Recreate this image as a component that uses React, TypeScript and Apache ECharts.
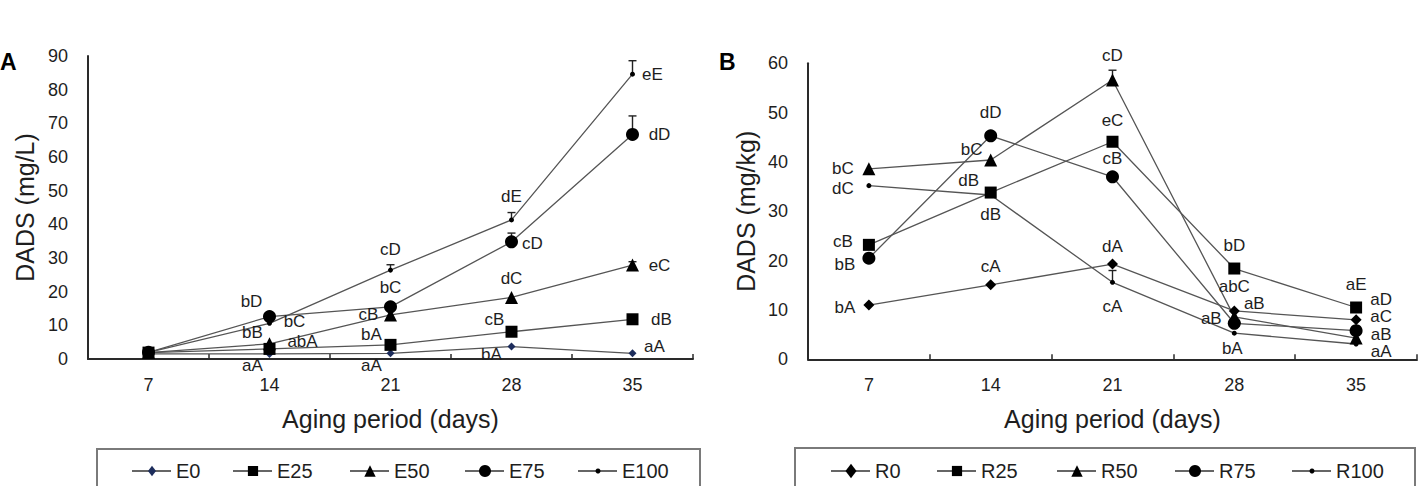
import React, { useEffect, useRef } from 'react';
import * as echarts from 'echarts';

// Aging period (days)
const days = ['7', '14', '21', '28', '35'];

// Panel A — DADS (mg/L)
const namesA = ['E0', 'E25', 'E50', 'E75', 'E100'];
const e0 = [1.5, 1.5, 1.7, 3.7, 1.7];
const e25 = [1.9, 3.0, 4.2, 8.1, 11.8];
const e50 = [1.9, 4.5, 13.1, 18.3, 27.9];
const e75 = [2.0, 12.6, 15.5, 34.8, 66.7];
const e100 = [2.0, 10.6, 26.4, 41.3, 84.6];
const e0Err = [0, 0, 0, 0, 0];
const e25Err = [0, 0, 0, 0, 0];
const e50Err = [0, 0, 0, 0, 1.0];
const e75Err = [0, 0, 0, 2.6, 5.5];
const e100Err = [0, 0, 1.6, 2.2, 4.0];
const e0Letters = ['', 'aA', 'aA', 'bA', 'aA'];
const e25Letters = ['', 'abA', 'bA', 'cB', 'dB'];
const e50Letters = ['', 'bB', 'cB', 'dC', 'eC'];
const e75Letters = ['', 'bD', 'bC', 'cD', 'dD'];
const e100Letters = ['', 'bC', 'cD', 'dE', 'eE'];

// Panel B — DADS (mg/kg)
const namesB = ['R0', 'R25', 'R50', 'R75', 'R100'];
const r0 = [11.0, 15.1, 19.3, 9.8, 8.0];
const r25 = [23.2, 33.8, 44.1, 18.4, 10.5];
const r50 = [38.6, 40.4, 56.6, 8.6, 4.3];
const r75 = [20.5, 45.3, 37.0, 7.3, 5.8];
const r100 = [35.2, 33.3, 15.6, 5.3, 3.1];
const r0Err = [0, 0, 0, 0, 0];
const r25Err = [0, 0, 0, 0, 0];
const r50Err = [0, 0, 2.0, 0, 0];
const r75Err = [0, 0, 0, 0, 0];
const r100Err = [0, 0, 2.4, 0, 0];
const r0Letters = ['bA', 'cA', 'dA', 'aB', 'aD'];
const r25Letters = ['cB', 'dB', 'eC', 'bD', 'aE'];
const r50Letters = ['bC', 'bC', 'cD', 'abC', 'aB'];
const r75Letters = ['bB', 'dD', 'cB', 'aB', 'aC'];
const r100Letters = ['dC', 'dB', 'cA', 'bA', 'aA'];

// Letter placement relative to each marker (px)
type Off = [number, number] | null;
const offE0: Off[] = [null, [-17, 12], [-19, 12], [-20, 8], [22, -7]];
const offE25: Off[] = [null, [33, -7], [-19, -10], [-17, -12], [29, 0]];
const offE50: Off[] = [null, [-17, -11], [-22, 0], [0, -19], [27, 0]];
const offE75: Off[] = [null, [-18, -15], [0, -19], [21, 2], [27, 0]];
const offE100: Off[] = [null, [25, -2], [0, -21], [0, -23], [20, 0]];
const offR0: Off[] = [[-24, 2], [0, -18], [0, -18], [20, -7], [25, -20]];
const offR25: Off[] = [[-26, -3], [-22, -12], [0, -21], [0, -23], [0, -23]];
const offR50: Off[] = [[-26, 0], [-19, -10], [0, -25], [0, -30], [25, -4]];
const offR75: Off[] = [[-24, 6], [0, -23], [0, -18], [-23, -5], [25, -14]];
const offR100: Off[] = [[-26, 3], [0, 19], [0, 24], [-2, 15], [25, 7]];

const FONT = '"Liberation Sans", Arial, Helvetica, sans-serif';
const TEXT = '#1e1e1e';
const LINE = '#555555';
const AXIS = '#2a2a2a';

type Mark = { symbol: string; size: number; color: string };
const marksA: Mark[] = [
  { symbol: 'diamond', size: 8, color: '#1d2d5c' },
  { symbol: 'rect', size: 12, color: '#000' },
  { symbol: 'triangle', size: 13, color: '#000' },
  { symbol: 'circle', size: 13, color: '#000' },
  { symbol: 'circle', size: 5, color: '#000' },
];
const marksB: Mark[] = [
  { symbol: 'diamond', size: 11, color: '#000' },
  { symbol: 'rect', size: 12, color: '#000' },
  { symbol: 'triangle', size: 13, color: '#000' },
  { symbol: 'circle', size: 13, color: '#000' },
  { symbol: 'circle', size: 5, color: '#000' },
];

function lineSeries(name: string, values: number[], letters: string[], offs: Off[], mark: Mark, gi: number) {
  return {
    type: 'line',
    name,
    xAxisIndex: gi,
    yAxisIndex: gi,
    symbol: mark.symbol,
    symbolSize: mark.size,
    showAllSymbol: true,
    itemStyle: { color: mark.color },
    lineStyle: { color: LINE, width: 1.3 },
    z: 3,
    label: {
      show: true,
      position: 'inside',
      fontSize: 17,
      fontFamily: FONT,
      color: TEXT,
      align: 'center',
      verticalAlign: 'middle',
    },
    data: values.map((v, i) => ({
      value: v,
      label: {
        show: letters[i] !== '',
        formatter: letters[i],
        offset: offs[i] || [0, 0],
      },
    })),
  };
}

function errorSeries(values: number[], errs: number[], gi: number) {
  const data: number[][] = [];
  values.forEach((v, i) => {
    if (errs[i] > 0) data.push([i, v, errs[i]]);
  });
  return {
    type: 'custom',
    xAxisIndex: gi,
    yAxisIndex: gi,
    z: 2,
    silent: true,
    renderItem: (_p: any, api: any) => {
      const base = api.coord([api.value(0), api.value(1)]);
      const top = api.coord([api.value(0), api.value(1) + api.value(2)]);
      const st = { stroke: '#222', lineWidth: 1.4 };
      return {
        type: 'group',
        children: [
          { type: 'line', shape: { x1: base[0], y1: base[1], x2: top[0], y2: top[1] }, style: st },
          { type: 'line', shape: { x1: top[0] - 4, y1: top[1], x2: top[0] + 4, y2: top[1] }, style: st },
        ],
      };
    },
    data,
  };
}

function xAxis(gi: number) {
  return {
    type: 'category',
    gridIndex: gi,
    data: days,
    boundaryGap: true,
    name: 'Aging period (days)',
    nameLocation: 'middle',
    nameGap: 47,
    nameTextStyle: { fontSize: 25, fontFamily: FONT, color: TEXT },
    axisLine: { show: true, lineStyle: { color: AXIS, width: 2 } },
    axisTick: { show: true, inside: true, length: 5, lineStyle: { color: AXIS, width: 1.5 } },
    axisLabel: { fontSize: 18, fontFamily: FONT, color: TEXT, margin: 17 },
    splitLine: { show: false },
  };
}

function yAxis(gi: number, max: number, name: string, gap: number) {
  return {
    type: 'value',
    gridIndex: gi,
    min: 0,
    max,
    interval: 10,
    name,
    nameLocation: 'middle',
    nameGap: gap,
    nameTextStyle: { fontSize: 25, fontFamily: FONT, color: TEXT },
    axisLine: { show: true, lineStyle: { color: AXIS, width: 2 } },
    axisTick: { show: false },
    axisLabel: { fontSize: 18, fontFamily: FONT, color: TEXT, margin: 20 },
    splitLine: { show: false },
  };
}

// Legend drawn as graphic: line + marker + label per entry
function legendMarker(m: Mark, cx: number, cy: number, big: number) {
  const fill = { fill: m.color };
  if (m.symbol === 'rect') {
    const s = big * 0.85;
    return { type: 'rect', shape: { x: cx - s / 2, y: cy - s / 2, width: s, height: s }, style: fill };
  }
  if (m.symbol === 'diamond') {
    const w = m.size * 0.5, h = m.size * 0.65;
    return { type: 'polygon', shape: { points: [[cx, cy - h], [cx + w, cy], [cx, cy + h], [cx - w, cy]] }, style: fill };
  }
  if (m.symbol === 'triangle') {
    const s = big * 0.95;
    return { type: 'polygon', shape: { points: [[cx, cy - s / 2], [cx + s / 2, cy + s / 2], [cx - s / 2, cy + s / 2]] }, style: fill };
  }
  return { type: 'circle', shape: { cx, cy, r: m.size > 6 ? big / 2 : 2.5 }, style: fill };
}

function legendGraphics(names: string[], marks: Mark[], centers: number[], cy: number, box: number[]) {
  const els: any[] = [
    {
      type: 'rect',
      shape: { x: box[0], y: box[1], width: box[2], height: box[3] },
      style: { fill: 'none', stroke: '#7a7a7a', lineWidth: 2 },
    },
  ];
  names.forEach((n, i) => {
    const cx = centers[i];
    els.push({ type: 'line', shape: { x1: cx - 20, y1: cy, x2: cx + 19, y2: cy }, style: { stroke: '#333', lineWidth: 1.3 } });
    els.push(legendMarker(marks[i], cx, cy, 12));
    els.push({
      type: 'text',
      x: cx + 24,
      y: cy,
      style: { text: n, fontSize: 20, fontFamily: FONT, fill: TEXT, align: 'left', verticalAlign: 'middle' },
    });
  });
  return els;
}

export default function App() {
  const ref = useRef<HTMLDivElement>(null);

  useEffect(() => {
    if (!ref.current) return;
    const chart = echarts.init(ref.current, null, { renderer: 'svg' });

    const valsA = [e0, e25, e50, e75, e100];
    const errA = [e0Err, e25Err, e50Err, e75Err, e100Err];
    const letA = [e0Letters, e25Letters, e50Letters, e75Letters, e100Letters];
    const offA = [offE0, offE25, offE50, offE75, offE100];
    const valsB = [r0, r25, r50, r75, r100];
    const errB = [r0Err, r25Err, r50Err, r75Err, r100Err];
    const letB = [r0Letters, r25Letters, r50Letters, r75Letters, r100Letters];
    const offB = [offR0, offR25, offR50, offR75, offR100];

    const series: any[] = [];
    namesA.forEach((n, i) => {
      series.push(lineSeries(n, valsA[i], letA[i], offA[i], marksA[i], 0));
      if (errA[i].some((e) => e > 0)) series.push(errorSeries(valsA[i], errA[i], 0));
    });
    namesB.forEach((n, i) => {
      series.push(lineSeries(n, valsB[i], letB[i], offB[i], marksB[i], 1));
      if (errB[i].some((e) => e > 0)) series.push(errorSeries(valsB[i], errB[i], 1));
    });

    chart.setOption({
      animation: false,
      backgroundColor: '#ffffff',
      textStyle: { fontFamily: FONT },
      grid: [
        { left: 88, top: 56, width: 605, height: 303, containLabel: false },
        { left: 808, top: 63.3, width: 609, height: 296, containLabel: false },
      ],
      xAxis: [xAxis(0), xAxis(1)],
      yAxis: [yAxis(0, 90, 'DADS (mg/L)', 51), yAxis(1, 60, 'DADS (mg/kg)', 50)],
      series,
      graphic: [
        {
          type: 'text',
          left: 0,
          top: 50,
          style: { text: 'A', fontSize: 23, fontWeight: 'bold', fontFamily: FONT, fill: '#000' },
        },
        {
          type: 'text',
          left: 719,
          top: 50,
          style: { text: 'B', fontSize: 23, fontWeight: 'bold', fontFamily: FONT, fill: '#000' },
        },
        ...legendGraphics(namesA, marksA, [152, 253, 370, 485, 598], 471, [97, 449, 603, 52]),
        ...legendGraphics(namesB, marksB, [851, 957, 1077, 1195, 1312], 471, [795, 448, 620, 52]),
      ],
    });

    return () => chart.dispose();
  }, []);

  return (
    <div
      ref={ref}
      style={{ position: 'fixed', left: 0, top: 0, width: 1420, height: 486, background: '#fff' }}
    />
  );
}
